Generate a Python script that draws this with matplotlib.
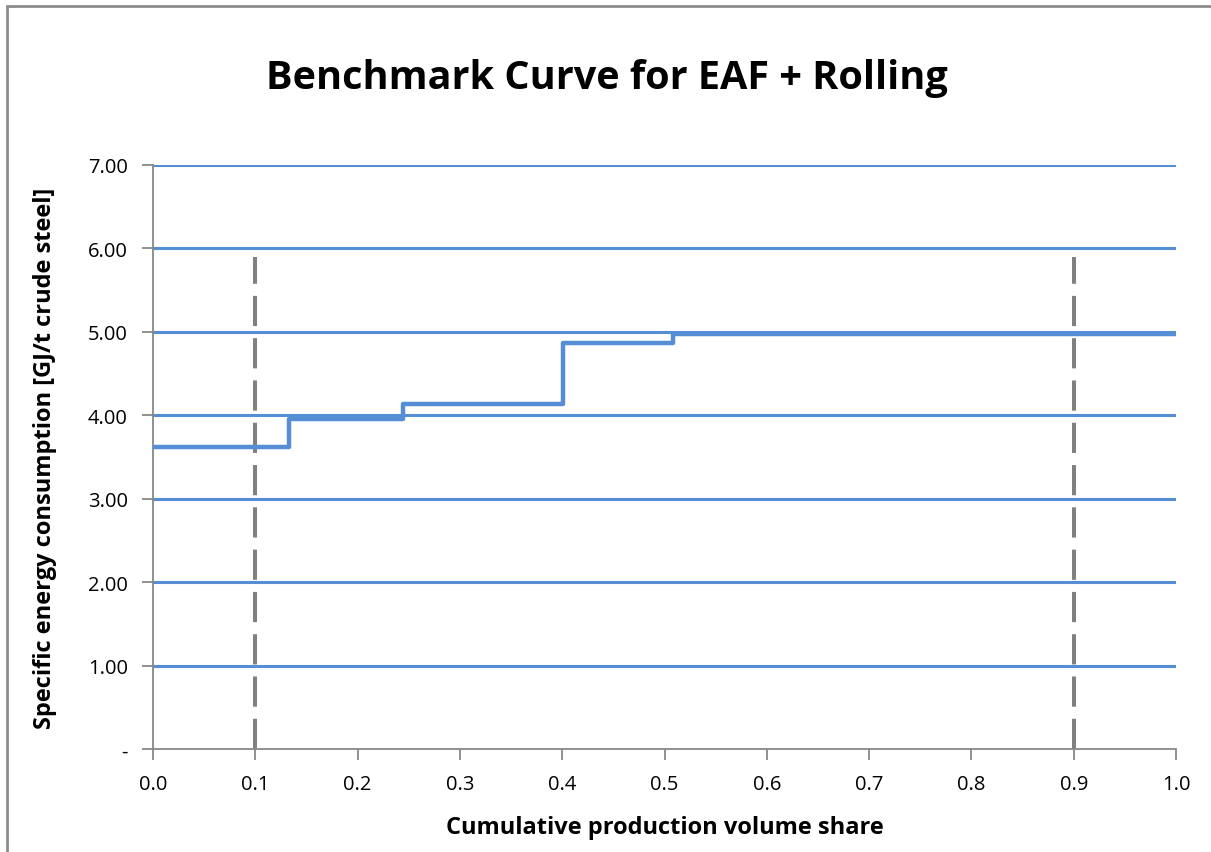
import matplotlib
matplotlib.use("Agg")
import matplotlib.pyplot as plt
from matplotlib.patches import Rectangle
from matplotlib.ticker import FixedLocator, FuncFormatter

# Data
step_x = [0.0, 0.133, 0.244, 0.401, 0.508, 1.0]
step_y = [3.62, 3.96, 4.14, 4.87, 4.97, 4.97]
ref_x = [0.1, 0.9]
ref_top = 5.9
y_ticks = [0, 1, 2, 3, 4, 5, 6, 7]
x_ticks = [0.0, 0.1, 0.2, 0.3, 0.4, 0.5, 0.6, 0.7, 0.8, 0.9, 1.0]

plt.rcParams['font.family'] = ['Open Sans', 'DejaVu Sans']

fig = plt.figure(figsize=(12.11, 8.53), dpi=100)
ax = fig.add_axes([153/1211, 1-750/853, (1176-153)/1211, (750-166)/853])

grid_c = '#558ED5'
for yv in y_ticks[1:]:
    ax.axhline(yv, color=grid_c, lw=2.2, zorder=1)

ax.step(step_x, step_y, where='post', color='#558ED5', lw=3.2, zorder=3)

for xv in ref_x:
    ax.plot([xv, xv], [0, ref_top], color='#808080', lw=2.9,
            dashes=(7.5, 3), zorder=2)

ax.set_xlim(0, 1.0)
ax.set_ylim(0, 7)
ax.xaxis.set_major_locator(FixedLocator(x_ticks))
ax.yaxis.set_major_locator(FixedLocator(y_ticks))
ax.xaxis.set_major_formatter(FuncFormatter(lambda v, p: f"{v:.1f}"))
ax.yaxis.set_major_formatter(FuncFormatter(lambda v, p: "-" if abs(v) < 1e-9 else f"{v:.2f}"))

for s in ['top', 'right']:
    ax.spines[s].set_visible(False)
for s in ['left', 'bottom']:
    ax.spines[s].set_color('#888888')
    ax.spines[s].set_linewidth(1.3)
ax.tick_params(axis='both', direction='out', length=8, width=1.3, color='#888888',
               labelsize=14.5, labelcolor='black')
ax.tick_params(axis='x', pad=10)
ax.tick_params(axis='y', pad=10)

ax.set_xlabel('Cumulative production volume share', fontsize=17, fontweight='bold', labelpad=15)
ax.set_ylabel('Specific energy consumption [GJ/t crude steel]', fontsize=17, fontweight='bold', labelpad=22)

fig.text(607/1211, 1-78/853, 'Benchmark Curve for EAF + Rolling',
         ha='center', va='center', fontsize=28.5, fontweight='bold')

fig.patches.append(Rectangle((7/1211, -0.1), 1.2, (853-7)/853+0.1, transform=fig.transFigure,
                             fill=False, edgecolor='#8c8c8c', lw=2))

fig.savefig('out.png', dpi=100)
